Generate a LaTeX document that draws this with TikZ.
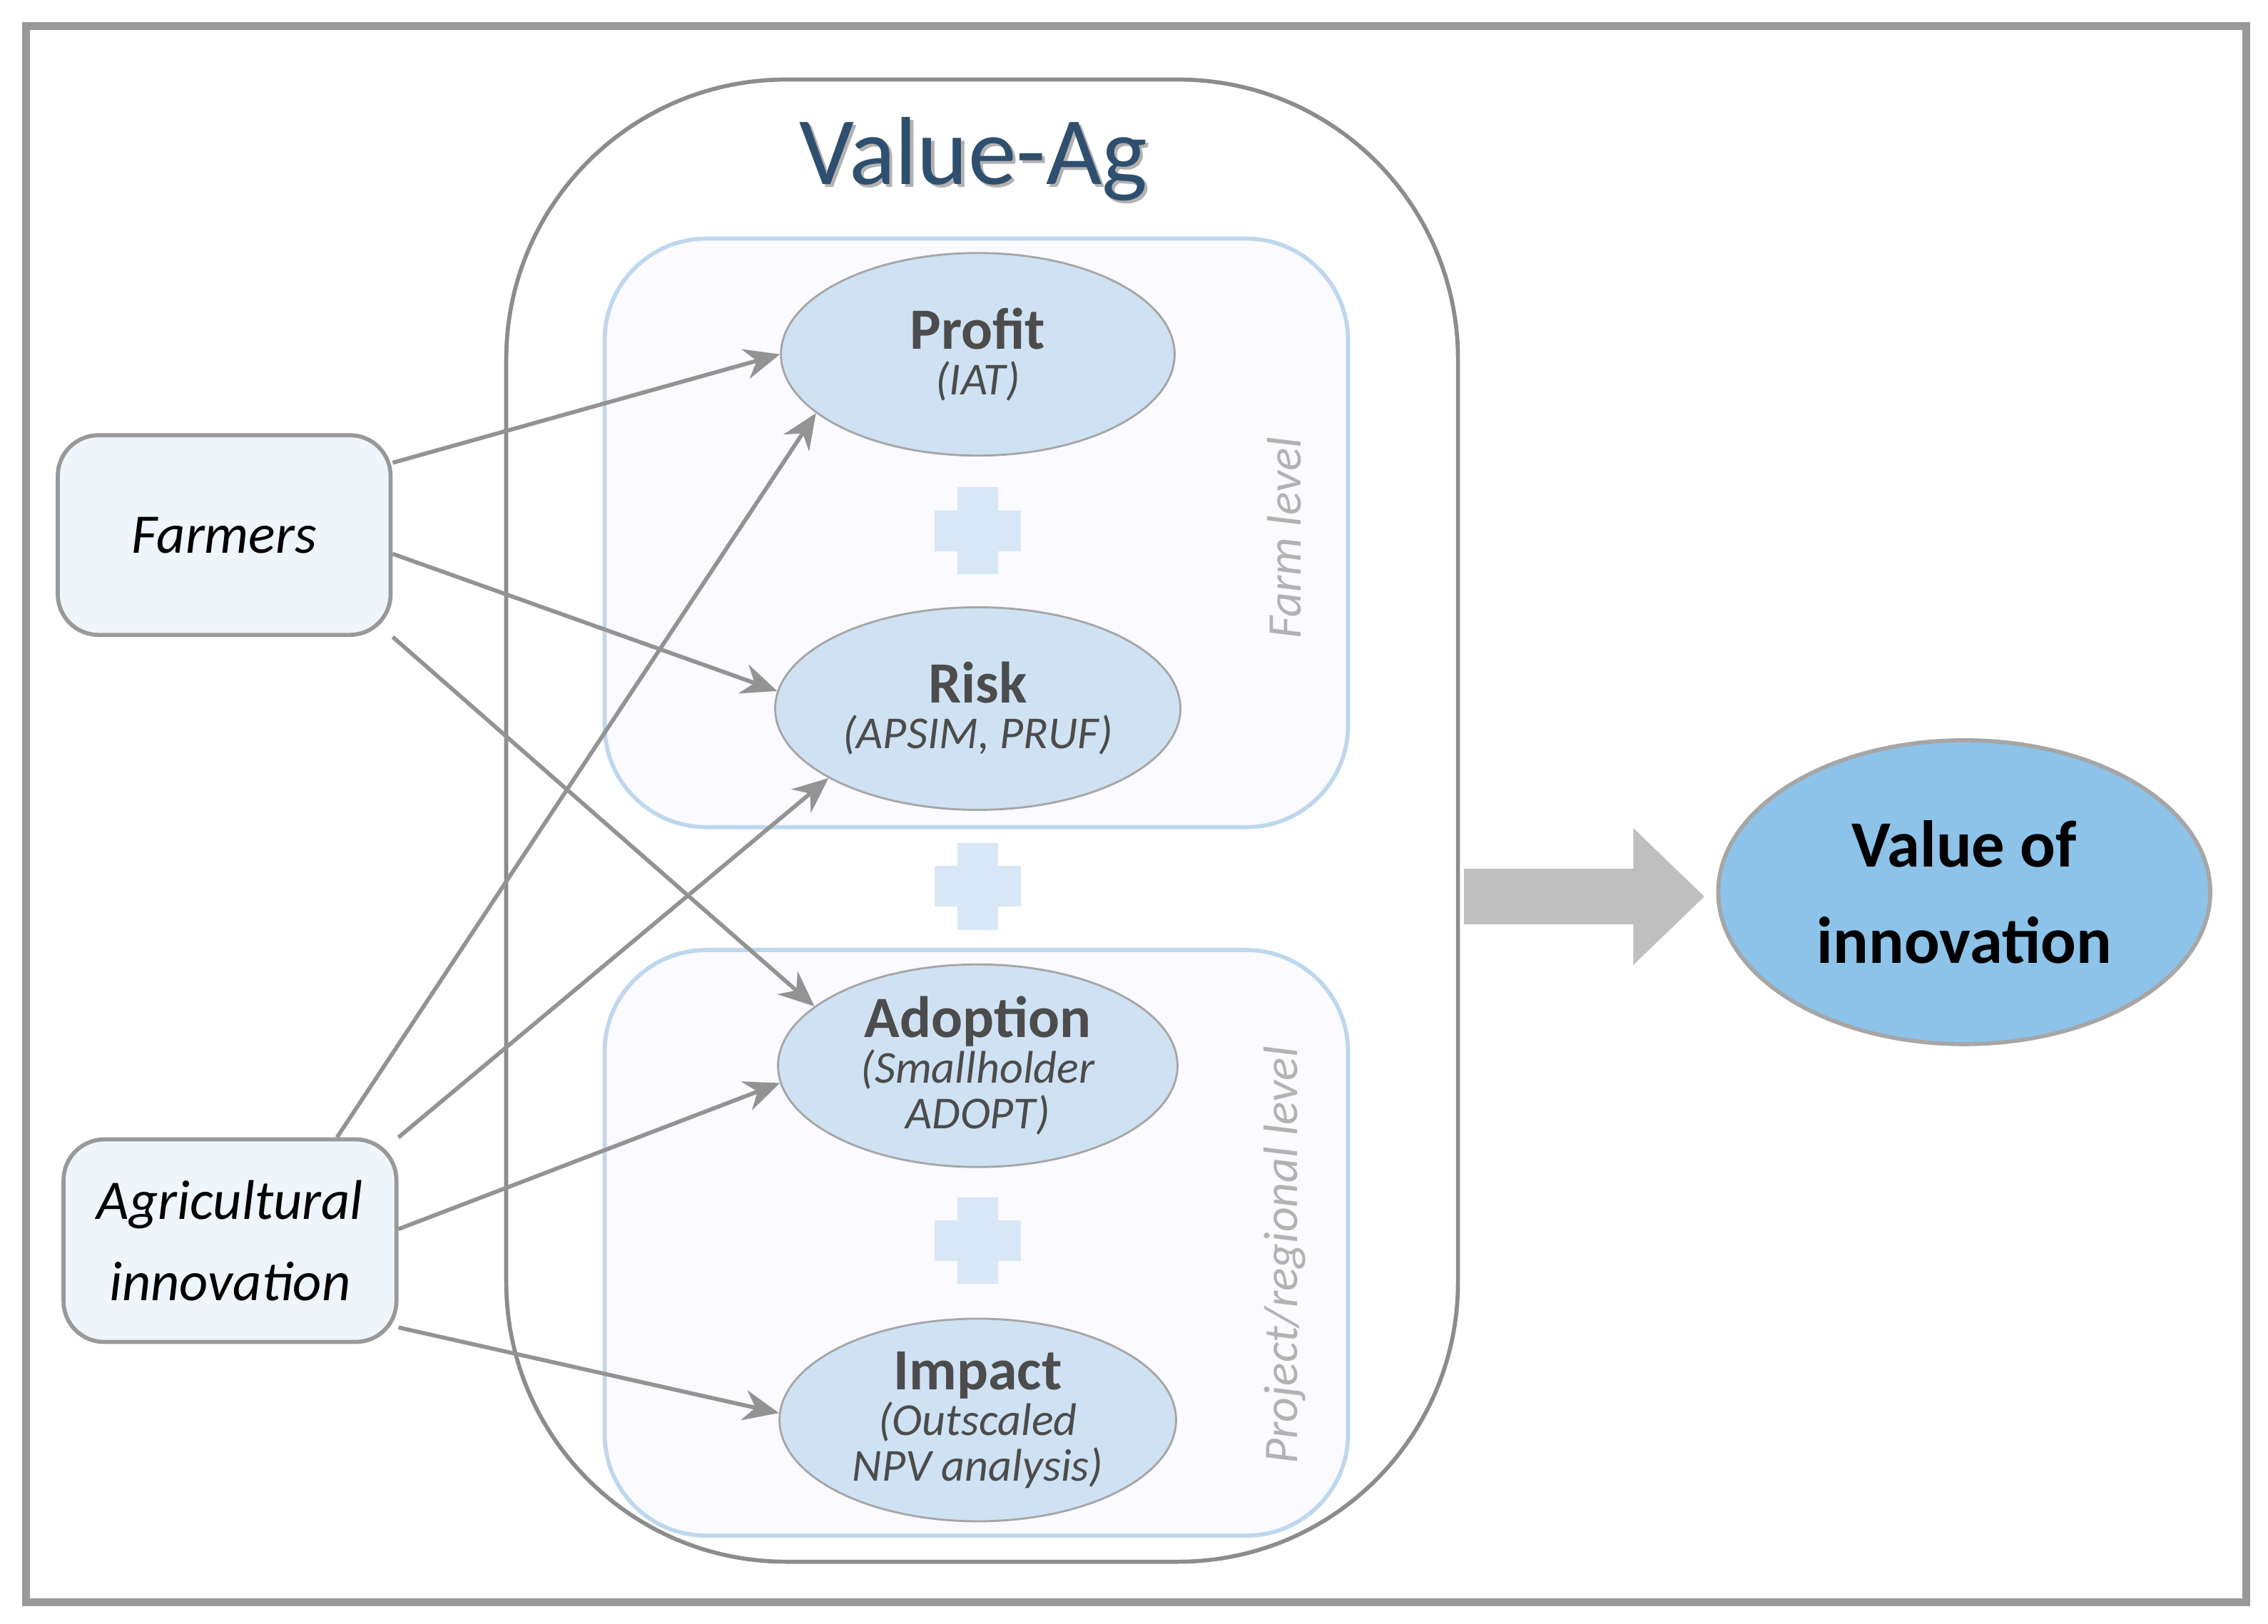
\documentclass[tikz,border=0pt]{standalone}
\usepackage{fontspec}
\setmainfont{Carlito}
\usetikzlibrary{calc,shapes.geometric,arrows.meta,positioning}
\definecolor{ovalblue}{HTML}{CFE2F3}
\definecolor{valblue}{HTML}{8DC3E8}
\definecolor{lvlblue}{HTML}{BDD7EE}
\definecolor{boxfill}{HTML}{EEF5FB}
\definecolor{titleblue}{HTML}{2F4F6F}
\tikzset{
  model/.style={ellipse,draw=gray!70,fill=ovalblue,minimum width=2.72cm,minimum height=1.4cm,
    align=center,text=black!70,font=\fontsize{11.5}{11}\selectfont\bfseries,inner sep=0pt},
  input/.style={rounded corners=8pt,draw=gray!80,thick,fill=boxfill,minimum width=2.3cm,
    minimum height=1.38cm,align=center,font=\fontsize{11}{16}\selectfont\itshape},
  level/.style={rounded corners=20pt,draw=lvlblue,thick,fill=blue!2},
  lvltext/.style={rotate=90,text=gray!60,font=\fontsize{9.5}{10}\selectfont\itshape},
  feed/.style={-{Stealth[length=7pt,width=6pt]},draw=gray!85,thick},
  plus/.style={line width=8pt,draw=lvlblue!60,line cap=butt}
}
\newcommand\smallit{\fontsize{9}{10}\selectfont\mdseries\itshape}
\newcommand\plussign[1]{\draw[plus] ($(#1)+(-30,0)$) -- ++(60,0); \draw[plus] ($(#1)+(0,-30)$) -- ++(0,60);}
\begin{document}
\begin{tikzpicture}[x=0.01cm,y=-0.01cm]
\useasboundingbox (0,0) rectangle (1568,1123);
\draw[gray!80,line width=1.6pt] (18,18) rectangle (1553,1108);

% Value-Ag frame
\draw[gray!90,thick,rounded corners=55pt] (350,55) rectangle (1008,1080);
\node[text=gray!60,font=\fontsize{19}{20}\selectfont] at (675,112) {Value-Ag};
\node[text=titleblue,font=\fontsize{19}{20}\selectfont] at (673,110) {Value-Ag};

% levels
\draw[level] (418,165) rectangle (932,572);
\draw[level] (418,657) rectangle (932,1062);
\node[lvltext] at (888,372) {Farm level};
\node[lvltext] at (888,868) {Project/regional level};

% models
\node[model] (profit) at (676,245) {Profit\\[-2pt]\smallit (IAT)};
\node[model,minimum width=2.8cm] (risk) at (676,490) {Risk\\[-2pt]\smallit (APSIM, PRUF)};
\node[model,minimum width=2.76cm] (adoption) at (676,737) {Adoption\\[-2pt]\smallit (Smallholder\\[-2pt]\smallit ADOPT)};
\node[model,minimum width=2.74cm] (impact) at (676,982) {Impact\\[-2pt]\smallit (Outscaled\\[-2pt]\smallit NPV analysis)};

\plussign{676,367}
\plussign{676,613}
\plussign{676,858}

% inputs
\node[input] (farmers) at (155,370) {Farmers};
\node[input,minimum height=1.4cm] (agri) at (159,858) {Agricultural\\innovation};

\draw[feed] ($(farmers.east)+(0,-50)$) -- (profit.west);
\draw[feed] ($(farmers.east)+(0,13)$) -- (risk.175);
\draw[feed] (farmers.south east) -- (adoption.160);
\draw[feed] ($(agri.north)+(74,0)$) -- (profit.200);
\draw[feed] (agri.north east) -- (risk.205);
\draw[feed] ($(agri.east)+(0,-8)$) -- (adoption.185);
\draw[feed] ($(agri.east)+(0,60)$) -- (impact.178);

% result
\node[ellipse,draw=gray!70,thick,fill=valblue,minimum width=3.4cm,minimum height=2.1cm,
  align=center,font=\fontsize{13}{19}\selectfont\bfseries] (value) at (1358,617) {Value of\\innovation};
\coordinate (out) at (1012,620);
\draw[gray!50,line width=11pt,-{Triangle[length=14pt,width=26pt]}] (out) -- ($(value.west)+(-8,3)$);
\end{tikzpicture}
\end{document}
